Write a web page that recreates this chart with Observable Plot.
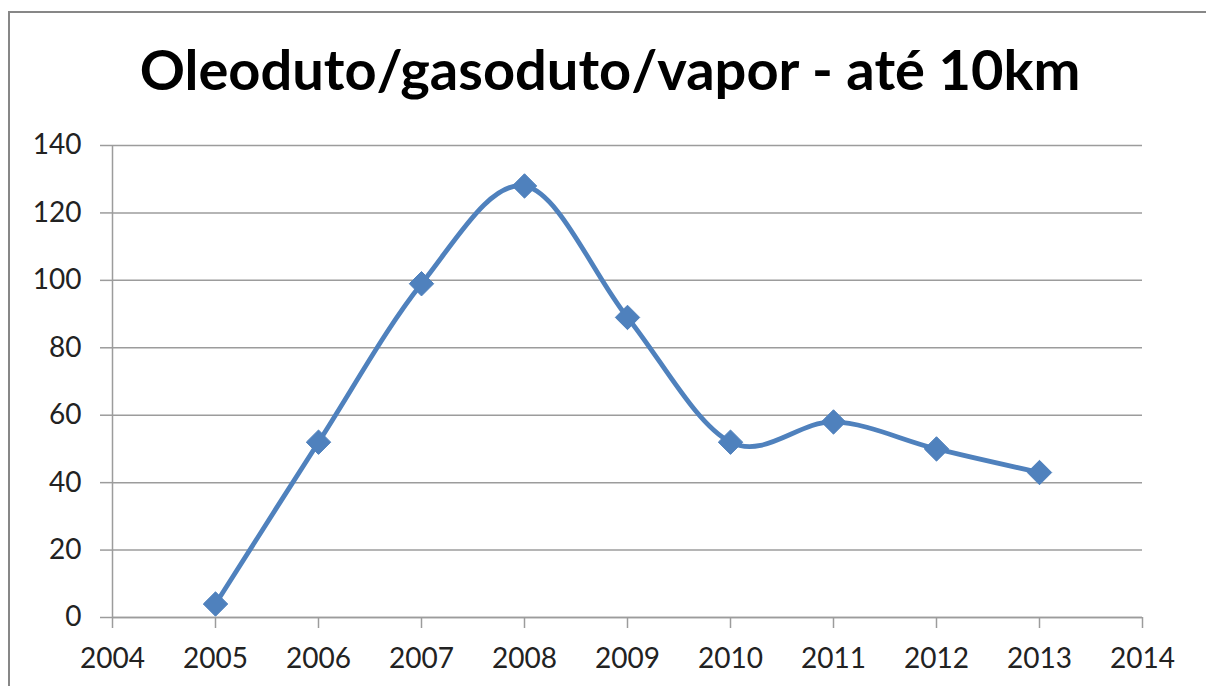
<!DOCTYPE html>
<html>
<head>
<meta charset="utf-8">
<script src="https://cdn.jsdelivr.net/npm/d3@7"></script>
<script src="https://cdn.jsdelivr.net/npm/@observablehq/plot@0.6"></script>
<style>
  html, body { margin: 0; padding: 0; background: #fff; overflow: hidden; width: 1206px; height: 686px; }
  #frame { position: absolute; left: 8px; top: 11px; width: 1300px; height: 800px; border: 2px solid #878787; box-sizing: border-box; }
  #wrap { position: absolute; left: 0; top: 0; width: 1206px; height: 686px; }
  #title { height: 125px; position: relative; font-family: Lato, "Open Sans", sans-serif; font-weight: 700; font-size: 56px; color: #000; }
  #title span { position: absolute; left: 610px; top: 41px; transform: translateX(-50%); white-space: nowrap; line-height: 1; }
  svg { display: block; }
</style>
</head>
<body>
<div id="frame"></div>
<div id="wrap">
  <div id="title"><span>Oleoduto/gasoduto/vapor - até 10km</span></div>
  <div id="chart"></div>
</div>
<script>
const years = [2005, 2006, 2007, 2008, 2009, 2010, 2011, 2012, 2013];
const values = [4, 52, 99, 128, 89, 52, 58, 50, 43];
const xTicks = [2004, 2005, 2006, 2007, 2008, 2009, 2010, 2011, 2012, 2013, 2014];
const yTicks = [0, 20, 40, 60, 80, 100, 120, 140];

const data = years.map((y, i) => ({year: y, value: values[i]}));
const blue = "#4F81BD";
const gridColor = "#9c9c9c";

const chart = Plot.plot({
  width: 1206,
  height: 561,
  marginTop: 20,
  marginBottom: 69,
  marginLeft: 112,
  marginRight: 64,
  style: {fontFamily: "Lato, 'Open Sans', sans-serif", fontSize: "28px", color: "#222", background: "transparent"},
  x: {domain: [2004, 2014], ticks: xTicks, tickFormat: "d", tickSize: 11, tickPadding: 20, label: null, line: false},
  y: {domain: [0, 140], ticks: yTicks, tickSize: 12, tickPadding: 19, label: null},
  marks: [
    Plot.gridY(yTicks, {stroke: gridColor, strokeOpacity: 1, strokeWidth: 1.5}),
    Plot.ruleX([2004], {y1: 0, y2: 140, stroke: gridColor, strokeWidth: 1.5}),
    Plot.ruleY([0], {stroke: gridColor, strokeWidth: 1.5}),
    Plot.axisX({ticks: xTicks, tickFormat: "d", tickSize: 11, tickPadding: 20, stroke: gridColor, strokeWidth: 1.5, fill: "#222", label: null}),
    Plot.axisY({ticks: yTicks, tickSize: 12, tickPadding: 19, stroke: gridColor, strokeWidth: 1.5, fill: "#222", label: null}),
    Plot.line(data, {x: "year", y: "value", stroke: blue, strokeWidth: 4.8, curve: "cardinal", tension: 0}),
    Plot.dot(data, {x: "year", y: "value", symbol: "diamond2", r: 11, fill: blue, stroke: blue, strokeWidth: 1})
  ]
});
document.getElementById("chart").appendChild(chart);
</script>
</body>
</html>
